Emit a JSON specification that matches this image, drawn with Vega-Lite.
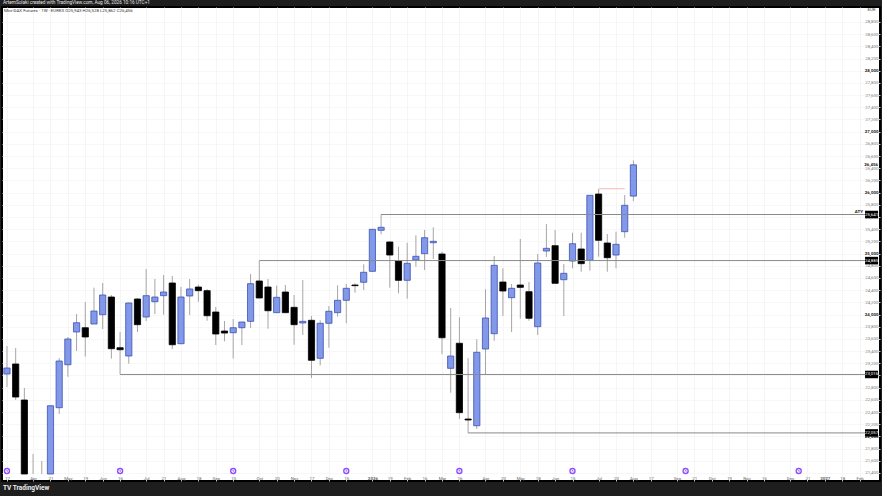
{
  "$schema": "https://vega.github.io/schema/vega-lite/v6.json",
  "title": {"text": "ArtemSolaki created with TradingView.com, Aug 06, 2026 10:16 UTC+1", "anchor": "start", "frame": "group", "offset": 2, "dx": 1, "fontSize": 4.7, "fontWeight": "normal", "font": "Roboto", "color": "#e8e8e8"},
  "width": 878,
  "height": 474,
  "autosize": "none",
  "padding": {"left": 2, "top": 7, "right": 2, "bottom": 15},
  "background": "#1e1e1e",
  "view": {"fill": "white", "stroke": "#000000", "strokeWidth": 2},
  "config": {"axis": {"labelOverlap": false, "labelBound": false, "labelFlush": false}},
  "datasets": {
    "candles": [
      {"date": "2025-03-17", "open": 23024, "high": 23483, "low": 22810, "close": 23122},
      {"date": "2025-03-24", "open": 23188, "high": 23450, "low": 22597, "close": 22646},
      {"date": "2025-03-31", "open": 22597, "high": 22794, "low": 21383, "close": 21383},
      {"date": "2025-04-07", "high": 21711, "low": 21383},
      {"date": "2025-04-14", "high": 21596, "low": 21383},
      {"date": "2025-04-21", "open": 21383, "high": 22503, "low": 21383, "close": 22503},
      {"date": "2025-04-28", "open": 22471, "high": 23286, "low": 22367, "close": 23237},
      {"date": "2025-05-05", "open": 23176, "high": 23631, "low": 22979, "close": 23598},
      {"date": "2025-05-12", "open": 23713, "high": 24008, "low": 23401, "close": 23865},
      {"date": "2025-05-19", "open": 23783, "high": 24205, "low": 23308, "close": 23631},
      {"date": "2025-05-26", "open": 23844, "high": 24440, "low": 23844, "close": 24057},
      {"date": "2025-06-02", "open": 23997, "high": 24517, "low": 23762, "close": 24320},
      {"date": "2025-06-09", "open": 24287, "high": 24320, "low": 23275, "close": 23439},
      {"date": "2025-06-16", "open": 23455, "high": 23713, "low": 23016, "close": 23422},
      {"date": "2025-06-23", "open": 23319, "high": 24194, "low": 23193, "close": 24189},
      {"date": "2025-06-30", "open": 24254, "high": 24271, "low": 23713, "close": 23833},
      {"date": "2025-07-07", "open": 23959, "high": 24747, "low": 23893, "close": 24309},
      {"date": "2025-07-14", "open": 24210, "high": 24583, "low": 24008, "close": 24287},
      {"date": "2025-07-21", "open": 24309, "high": 24648, "low": 23997, "close": 24369},
      {"date": "2025-07-28", "open": 24517, "high": 24632, "low": 23434, "close": 23504},
      {"date": "2025-08-04", "open": 23521, "high": 24451, "low": 23511, "close": 24287},
      {"date": "2025-08-11", "open": 24304, "high": 24583, "low": 23992, "close": 24419},
      {"date": "2025-08-18", "open": 24451, "high": 24489, "low": 24210, "close": 24391},
      {"date": "2025-08-25", "open": 24391, "high": 24419, "low": 23898, "close": 23980},
      {"date": "2025-09-01", "open": 24041, "high": 24123, "low": 23500, "close": 23680},
      {"date": "2025-09-08", "open": 23729, "high": 23893, "low": 23560, "close": 23696},
      {"date": "2025-09-15", "open": 23701, "high": 23926, "low": 23275, "close": 23783},
      {"date": "2025-09-22", "open": 23783, "high": 23882, "low": 23500, "close": 23877},
      {"date": "2025-09-29", "open": 23888, "high": 24665, "low": 23779, "close": 24506},
      {"date": "2025-10-06", "open": 24550, "high": 24885, "low": 24271, "close": 24271},
      {"date": "2025-10-13", "open": 24451, "high": 24583, "low": 23767, "close": 24062},
      {"date": "2025-10-20", "open": 24030, "high": 24473, "low": 24030, "close": 24282},
      {"date": "2025-10-27", "open": 24369, "high": 24484, "low": 24025, "close": 24030},
      {"date": "2025-11-03", "open": 24118, "high": 24320, "low": 23504, "close": 23833},
      {"date": "2025-11-10", "open": 23861, "high": 24566, "low": 23664, "close": 23888},
      {"date": "2025-11-17", "open": 23905, "high": 23975, "low": 22958, "close": 23249},
      {"date": "2025-11-24", "open": 23281, "high": 23905, "low": 23166, "close": 23856},
      {"date": "2025-12-01", "open": 23856, "high": 24140, "low": 23455, "close": 24053},
      {"date": "2025-12-08", "open": 24030, "high": 24479, "low": 23964, "close": 24233},
      {"date": "2025-12-15", "open": 24233, "high": 24501, "low": 23856, "close": 24430},
      {"date": "2025-12-22", "open": 24484, "high": 24512, "low": 24358, "close": 24473},
      {"date": "2025-12-29", "open": 24529, "high": 24824, "low": 24402, "close": 24693},
      {"date": "2026-01-05", "open": 24709, "high": 25403, "low": 24697, "close": 25398},
      {"date": "2026-01-12", "open": 25382, "high": 25641, "low": 25316, "close": 25431},
      {"date": "2026-01-19", "open": 25190, "high": 25201, "low": 24440, "close": 24976},
      {"date": "2026-01-26", "open": 24878, "high": 25113, "low": 24348, "close": 24561},
      {"date": "2026-02-02", "open": 24561, "high": 25178, "low": 24259, "close": 24840},
      {"date": "2026-02-09", "open": 24894, "high": 25300, "low": 24785, "close": 24955},
      {"date": "2026-02-16", "open": 24998, "high": 25387, "low": 24730, "close": 25260},
      {"date": "2026-02-23", "open": 25178, "high": 25431, "low": 24911, "close": 25201},
      {"date": "2026-03-02", "open": 24993, "high": 25031, "low": 23347, "close": 23619},
      {"date": "2026-03-09", "open": 23117, "high": 24107, "low": 22717, "close": 23319},
      {"date": "2026-03-16", "open": 23528, "high": 23954, "low": 22285, "close": 22389},
      {"date": "2026-03-23", "open": 22285, "high": 23286, "low": 22057, "close": 22269},
      {"date": "2026-03-30", "open": 22175, "high": 23593, "low": 22121, "close": 23380},
      {"date": "2026-04-06", "open": 23434, "high": 24414, "low": 23019, "close": 23943},
      {"date": "2026-04-13", "open": 23685, "high": 24960, "low": 23570, "close": 24807},
      {"date": "2026-04-20", "open": 24533, "high": 24758, "low": 23975, "close": 24386},
      {"date": "2026-04-27", "open": 24276, "high": 24501, "low": 23713, "close": 24430},
      {"date": "2026-05-04", "open": 24484, "high": 25239, "low": 23931, "close": 24446},
      {"date": "2026-05-11", "open": 24374, "high": 24533, "low": 23898, "close": 23938},
      {"date": "2026-05-18", "open": 23800, "high": 24993, "low": 23664, "close": 24845},
      {"date": "2026-05-25", "open": 25042, "high": 25485, "low": 24944, "close": 25086},
      {"date": "2026-06-01", "open": 25129, "high": 25387, "low": 24512, "close": 24512},
      {"date": "2026-06-08", "open": 24571, "high": 24829, "low": 23975, "close": 24676},
      {"date": "2026-06-15", "open": 24878, "high": 25342, "low": 24758, "close": 25162},
      {"date": "2026-06-22", "open": 25075, "high": 25342, "low": 24702, "close": 24834},
      {"date": "2026-06-29", "open": 24890, "high": 25961, "low": 24719, "close": 25956},
      {"date": "2026-07-06", "open": 25977, "high": 26060, "low": 24949, "close": 25218},
      {"date": "2026-07-13", "open": 25173, "high": 25321, "low": 24702, "close": 24932},
      {"date": "2026-07-20", "open": 24976, "high": 25359, "low": 24758, "close": 25152},
      {"date": "2026-07-27", "open": 25359, "high": 25961, "low": 25260, "close": 25792},
      {"date": "2026-08-03", "open": 25943, "high": 26528, "low": 25862, "close": 26456}
    ],
    "levels": [
      {"start": "2026-01-12", "price": 25641, "label": "25,641"},
      {"start": "2025-10-06", "price": 24885, "label": "24,885"},
      {"start": "2025-06-16", "price": 23016, "label": "23,016"},
      {"start": "2026-03-23", "price": 22057, "label": "22,057"}
    ],
    "sessions": [
      {"date": "2025-03-17"}, {"date": "2025-06-16"}, {"date": "2025-09-15"}, {"date": "2025-12-15"},
      {"date": "2026-03-16"}, {"date": "2026-06-15"}, {"date": "2026-09-14"}, {"date": "2026-12-14"}
    ]
  },
  "data": {"name": "candles"},
  "layer": [
    {
      "mark": {"type": "rule", "color": "#a6a6a6", "strokeWidth": 1},
      "encoding": {
        "x": {
          "field": "date",
          "type": "temporal",
          "scale": {"type": "utc", "domain": [1741824000000, 1802856960000], "padding": 0},
          "axis": {
            "title": null,
            "grid": true,
            "gridColor": "#f3f3f3",
            "gridWidth": 0.8,
            "domain": false,
            "ticks": false,
            "tickCount": 200,
            "labelFont": "Roboto",
            "labelFontSize": 4.4,
            "labelColor": "#666666",
            "labelPadding": -3,
            "labelBaseline": "middle",
            "labelOverlap": false,
            "labelFontWeight": {"condition": {"test": "utcmonth(datum.value) == 0 && utcdate(datum.value) <= 7", "value": "bold"}, "value": "normal"},
            "labelExpr": "utcdate(datum.value) <= 7 ? (utcmonth(datum.value) == 0 ? utcFormat(datum.value, '%Y') : utcFormat(datum.value, '%b')) : utcFormat(datum.value, '%-d')",
            "values": [1742169600000, 1743984000000, 1745193600000, 1746403200000, 1747612800000, 1748822400000, 1750032000000, 1751846400000, 1753056000000, 1754265600000, 1755475200000, 1756684800000, 1757894400000, 1759708800000, 1760918400000, 1762128000000, 1763337600000, 1764547200000, 1765756800000, 1767571200000, 1768780800000, 1769990400000, 1771200000000, 1772409600000, 1773619200000, 1775433600000, 1776643200000, 1777852800000, 1779062400000, 1780272000000, 1781481600000, 1783296000000, 1784505600000, 1785715200000, 1786924800000, 1788739200000, 1789948800000, 1791158400000, 1792368000000, 1793577600000, 1794787200000, 1796601600000, 1797811200000, 1799020800000, 1800230400000, 1801440000000]
          }
        },
        "y": {
          "field": "low",
          "type": "quantitative",
          "scale": {"domain": [21268, 29046], "zero": false, "nice": false},
          "axis": {
            "title": null,
            "orient": "right",
            "grid": true,
            "gridColor": "#f5f5f5",
            "gridWidth": 0.8,
            "domain": false,
            "ticks": false,
            "tickCount": 200,
            "labelFont": "Roboto",
            "labelFontSize": 4.4,
            "labelAlign": "right",
            "labelPadding": -2,
            "labelOverlap": false,
            "format": ",d",
            "labelColor": {"condition": {"test": "datum.value % 1000 == 0", "value": "#222222"}, "value": "#808080"},
            "labelFontWeight": {"condition": {"test": "datum.value % 1000 == 0", "value": "bold"}, "value": "normal"},
            "values": [21400, 21600, 21800, 22000, 22200, 22400, 22600, 22800, 23000, 23200, 23400, 23600, 23800, 24000, 24200, 24400, 24600, 24800, 25000, 25200, 25400, 25600, 25800, 26000, 26200, 26400, 26600, 26800, 27000, 27200, 27400, 27600, 27800, 28000, 28200, 28400, 28600, 28800]
          }
        },
        "y2": {"field": "high"}
      }
    },
    {
      "transform": [{"filter": "isValid(datum.open)"}],
      "mark": {"type": "bar", "size": 6.2, "strokeWidth": 0.8},
      "encoding": {
        "x": {"field": "date", "type": "temporal"},
        "y": {"field": "open", "type": "quantitative"},
        "y2": {"field": "close"},
        "fill": {"condition": {"test": "datum.close >= datum.open", "value": "#8298e8"}, "value": "#000000"},
        "stroke": {"condition": {"test": "datum.close >= datum.open", "value": "#3c50b4"}, "value": "#000000"}
      }
    },
    {
      "data": {"name": "levels"},
      "mark": {"type": "rule", "color": "#8a8a8a", "strokeWidth": 1},
      "encoding": {
        "x": {"field": "start", "type": "temporal"},
        "x2": {"datum": 1801814976000},
        "y": {"field": "price", "type": "quantitative"}
      }
    },
    {
      "data": {"values": [{"start": "2026-07-06", "end": "2026-07-27", "price": 26065}]},
      "mark": {"type": "rule", "color": "#f8c4c4", "strokeWidth": 1.2},
      "encoding": {
        "x": {"field": "start", "type": "temporal"},
        "x2": {"field": "end"},
        "y": {"field": "price", "type": "quantitative"}
      }
    },
    {
      "data": {"name": "levels"},
      "mark": {"type": "rect", "width": 13, "height": 7.5, "color": "#000000"},
      "encoding": {
        "x": {"datum": 1802268576000, "type": "temporal"},
        "y": {"field": "price", "type": "quantitative"}
      }
    },
    {
      "data": {"name": "levels"},
      "mark": {"type": "text", "font": "Roboto", "fontSize": 4.4, "color": "#ffffff"},
      "encoding": {
        "x": {"datum": 1802268576000, "type": "temporal"},
        "y": {"field": "price", "type": "quantitative"},
        "text": {"field": "label"}
      }
    },
    {
      "data": {"values": [{"label": "26,456", "price": 26456}]},
      "mark": {"type": "text", "font": "Roboto", "fontSize": 4.4, "fontWeight": "bold", "color": "#111111", "align": "right", "dx": 6.5},
      "encoding": {
        "x": {"datum": 1802268576000, "type": "temporal"},
        "y": {"field": "price", "type": "quantitative"},
        "text": {"field": "label"}
      }
    },
    {
      "data": {"values": [{"label": "ATY", "price": 25641}]},
      "mark": {"type": "text", "font": "Roboto", "fontSize": 4.4, "fontWeight": "bold", "color": "#111111", "align": "right", "dx": -2, "dy": -3},
      "encoding": {
        "x": {"datum": 1801814976000, "type": "temporal"},
        "y": {"field": "price", "type": "quantitative"},
        "text": {"field": "label"}
      }
    },
    {
      "data": {"values": [{"label": "EUR", "price": 28990}]},
      "mark": {"type": "text", "font": "Roboto", "fontSize": 4.4, "color": "#444444"},
      "encoding": {
        "x": {"datum": 1802268576000, "type": "temporal"},
        "y": {"field": "price", "type": "quantitative"},
        "text": {"field": "label"}
      }
    },
    {
      "data": {"values": [{"label": "Mini-DAX Futures · 1W · EUREX  O25,943 H26,528 L25,862 C26,456", "price": 28985}]},
      "mark": {"type": "text", "font": "Roboto", "fontSize": 4.4, "color": "#333333", "align": "left", "dx": 2},
      "encoding": {
        "x": {"datum": 1741824000000, "type": "temporal"},
        "y": {"field": "price", "type": "quantitative"},
        "text": {"field": "label"}
      }
    },
    {
      "data": {"values": [{"label": "TV TradingView", "price": 21153}]},
      "mark": {"type": "text", "font": "Roboto", "fontSize": 6.5, "fontWeight": "bold", "color": "#f0f0f0", "align": "left", "dx": 1},
      "encoding": {
        "x": {"datum": 1741824000000, "type": "temporal"},
        "y": {"field": "price", "type": "quantitative"},
        "text": {"field": "label"}
      }
    },
    {
      "data": {"name": "sessions"},
      "mark": {"type": "point", "shape": "circle", "size": 26, "filled": true, "fill": "#e9e2ff", "stroke": "#8a4dff", "strokeWidth": 1.3, "opacity": 1},
      "encoding": {
        "x": {"field": "date", "type": "temporal"},
        "y": {"datum": 21432}
      }
    },
    {
      "data": {"name": "sessions"},
      "mark": {"type": "point", "shape": "M0,-0.8L0,0L0.6,0.4", "size": 8, "filled": false, "stroke": "#8a4dff", "strokeWidth": 0.7, "opacity": 1},
      "encoding": {
        "x": {"field": "date", "type": "temporal"},
        "y": {"datum": 21432}
      }
    }
  ]
}
